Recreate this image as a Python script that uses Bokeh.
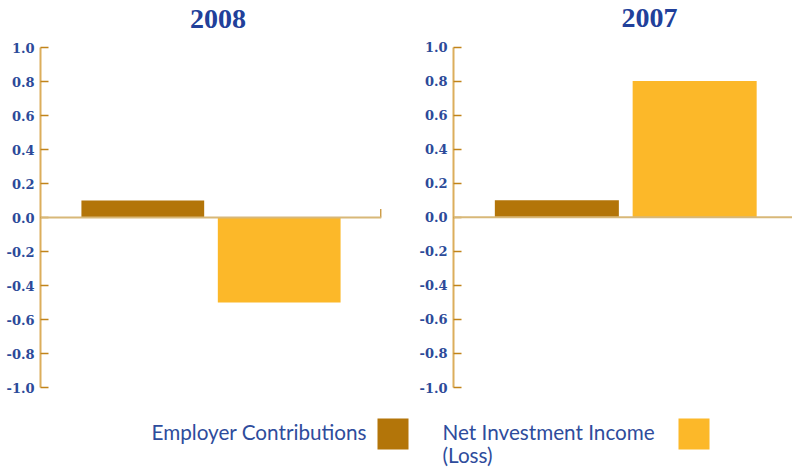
from bokeh.plotting import figure
from bokeh.models import Range1d, FixedTicker, NumeralTickFormatter, Span, Label, ColumnDataSource
from bokeh.layouts import column, row
from bokeh.embed import file_html
from bokeh.resources import INLINE
from bokeh.core.properties import value

# ---------------- data ----------------
years = ["2008", "2007"]
series = ["Employer Contributions", "Net Investment Income (Loss)"]
employer_contributions = [0.1, 0.1]
net_investment_income = [-0.5, 0.8]
y_ticks = [-1.0, -0.8, -0.6, -0.4, -0.2, 0.0, 0.2, 0.4, 0.6, 0.8, 1.0]
legend_lines = [["Employer Contributions"], ["Net Investment Income", "(Loss)"]]

# ---------------- style ----------------
BROWN = "#b37509"
YELLOW = "#fcb829"
AXIS_LINE = "#dcae5c"
TICK = "#c1841a"
ZERO = "#d8b878"
TITLE_BLUE = "#21409a"
TICK_BLUE = "#2c4a99"
LEGEND_BLUE = "#2e4c9c"
colors = [BROWN, YELLOW]


def make_panel(year_idx, width, border_left, border_right, border_bottom,
               x_end, y_top, title_dx, end_tick):
    p = figure(width=width, height=400,
               x_range=Range1d(0.25, x_end), y_range=Range1d(-1.0, y_top),
               output_backend="svg", toolbar_location=None,
               x_axis_location=None,
               min_border_left=border_left, min_border_right=border_right,
               min_border_top=0, min_border_bottom=border_bottom)
    p.outline_line_color = None
    p.xgrid.visible = False
    p.ygrid.visible = False
    p.background_fill_color = "white"
    p.border_fill_color = "white"

    ax = p.yaxis[0]
    ax.bounds = (-1.0, 1.0)
    ax.ticker = FixedTicker(ticks=y_ticks)
    ax.formatter = NumeralTickFormatter(format="0.0")
    ax.minor_tick_line_color = None
    ax.axis_line_color = AXIS_LINE
    ax.axis_line_width = 2
    ax.major_tick_line_color = TICK
    ax.major_tick_line_width = 1.5
    ax.major_tick_in = 8
    ax.major_tick_out = 0
    ax.major_label_standoff = 6
    ax.major_label_text_font = "DejaVu Serif"
    ax.major_label_text_font_style = "bold"
    ax.major_label_text_font_size = "13px"
    ax.major_label_text_color = TICK_BLUE

    p.add_layout(Span(location=0, dimension="width", line_color=ZERO, line_width=2))

    vals = [employer_contributions[year_idx], net_investment_income[year_idx]]
    src = ColumnDataSource(dict(x=[i + 1 for i in range(len(series))],
                                top=vals, color=colors, name=series))
    p.vbar(x="x", top="top", bottom=0, width=0.9, source=src,
           fill_color="color", line_color=None)

    if end_tick:
        p.segment(x0=[x_end - 0.004], y0=[0.0], x1=[x_end - 0.004], y1=[0.05],
                  line_color=TICK, line_width=1.5)

    p.add_layout(Label(x=0.25, y=1.0, x_offset=title_dx, y_offset=29,
                       text=years[year_idx], text_align="center",
                       text_baseline="alphabetic",
                       text_font="Liberation Serif", text_font_style="bold",
                       text_font_size="28px", text_color=TITLE_BLUE))
    return p


p1 = make_panel(0, width=415, border_left=40, border_right=34, border_bottom=13,
                x_end=2.75, y_top=1.2765, title_dx=177.5, end_tick=True)
p2 = make_panel(1, width=377, border_left=38, border_right=0, border_bottom=9,
                x_end=2.71, y_top=1.2733, title_dx=196, end_tick=False)

# ---------------- legend ----------------
leg = figure(width=792, height=68, x_range=Range1d(0, 792), y_range=Range1d(468, 400),
             output_backend="svg", toolbar_location=None,
             x_axis_location=None, y_axis_location=None,
             min_border_left=0, min_border_right=0, min_border_top=0, min_border_bottom=0)
leg.outline_line_color = None
leg.xgrid.visible = False
leg.ygrid.visible = False

text_x = [151, 442]
swatch_x = [392.5, 693.5]
for i, lines in enumerate(legend_lines):
    for j, line in enumerate(lines):
        leg.text(x=[text_x[i]], y=[431 + 23 * j], text=[line],
                 text_font=value("Lato"), text_font_size="20.7px",
                 text_color=LEGEND_BLUE, text_baseline="alphabetic", text_align="left")
    leg.rect(x=[swatch_x[i]], y=[433.5], width=31, height=31,
             fill_color=colors[i], line_color=None)

layout = column(row(p1, p2), leg)
open("out.html", "w").write(file_html(layout, INLINE))
